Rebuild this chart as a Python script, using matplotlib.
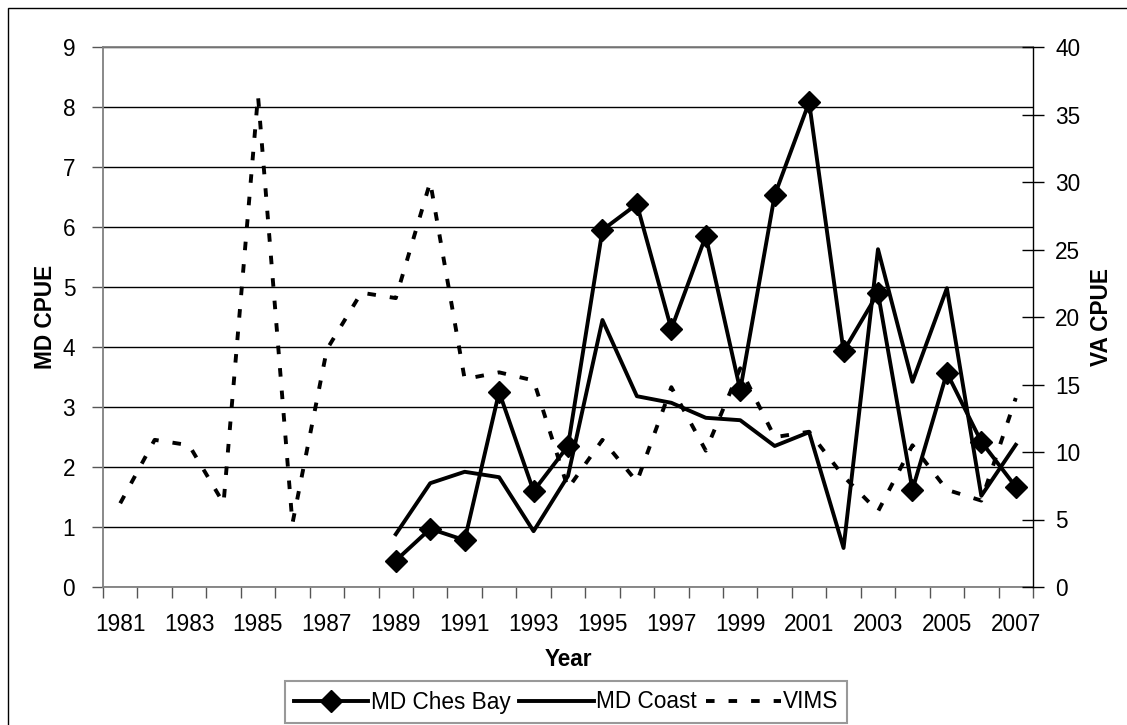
import numpy as np
import matplotlib
matplotlib.use('Agg')
import matplotlib.pyplot as plt
from matplotlib.patches import Rectangle

plt.rcParams['font.family'] = ['Liberation Sans', 'DejaVu Sans']

# data
years = list(range(1981, 2008))
md_years = list(range(1989, 2008))
md_ches_bay = [0.44, 0.97, 0.78, 3.25, 1.6, 2.35, 5.95, 6.38, 4.3, 5.85, 3.28,
               6.53, 8.08, 3.93, 4.9, 1.62, 3.57, 2.42, 1.67]
md_coast = [0.88, 1.73, 1.92, 1.83, 0.93, 1.85, 4.45, 3.18, 3.07, 2.82, 2.78,
            2.35, 2.58, 0.65, 5.63, 3.42, 4.98, 1.52, 2.37]
vims = [6.2, 10.9, 10.5, 6.2, 36.4, 4.7, 17.6, 21.8, 21.4, 30.0, 15.4, 15.9,
        15.3, 7.3, 10.9, 7.8, 14.8, 10.1, 16.2, 11.1, 11.5, 8.2, 5.6, 10.5,
        7.2, 6.4, 14.0]
label_years = list(range(1981, 2008, 2))

W, H = 1127, 725
fig = plt.figure(figsize=(W / 100, H / 100), dpi=100)
fs = 16.3

# plot area in pixels
L, R, T, B = 103, 1033, 47, 587
ax = fig.add_axes([L / W, 1 - B / H, (R - L) / W, (B - T) / H])
ax2 = ax.twinx()

lw = 2.8
ln1, = ax.plot(md_years, md_ches_bay, color='black', lw=lw, marker='D',
               ms=11, mfc='black', mec='black', zorder=4,
               label='MD Ches Bay')
ln2, = ax.plot(md_years, md_coast, color='black', lw=lw, zorder=3,
               label='MD Coast')
ln3, = ax2.plot(years, vims, color='black', lw=lw,
                linestyle=(0, (2.2, 3.6)), dash_capstyle='butt',
                label='VIMS')

ax.set_xlim(years[0] - 0.5, years[-1] + 0.5)
ax.set_ylim(0, 9)
ax2.set_ylim(0, 40)
ax.set_yticks(range(0, 10))
ax2.set_yticks(range(0, 41, 5))

# x: tick marks between categories, labels on every other year
ax.set_xticks(np.arange(years[0] - 0.5, years[-1] + 1, 1))
ax.set_xticklabels([])
ax.set_xticks(label_years, minor=True)
ax.set_xticklabels([str(y) for y in label_years], minor=True)
ax.tick_params(axis='x', which='major', direction='out', length=8,
               width=1, color='#555555')
ax.tick_params(axis='x', which='minor', length=0, pad=19, labelsize=fs)
ax.tick_params(axis='y', direction='out', length=8, width=1,
               color='#555555', pad=12, labelsize=fs)
ax2.tick_params(axis='y', direction='inout', length=16, width=1,
                color='black', pad=8, labelsize=fs)

ax.grid(axis='y', color='black', lw=1)
ax.set_axisbelow(True)
for s in ['left', 'bottom', 'top']:
    ax.spines[s].set_color('#808080')
    ax.spines[s].set_linewidth(1.3)
ax.spines['right'].set_visible(False)
for s in ['left', 'bottom', 'top']:
    ax2.spines[s].set_visible(False)
ax2.spines['right'].set_color('black')
ax2.spines['right'].set_linewidth(1)

fig.text(45 / W, 1 - 317 / H, 'MD CPUE', rotation=90, ha='center',
         va='center', fontsize=fs, fontweight='bold')
fig.text(1101 / W, 1 - 317 / H, 'VA CPUE', rotation=90, ha='center',
         va='center', fontsize=fs, fontweight='bold')
fig.text(568 / W, 1 - 660 / H, 'Year', ha='center', va='center',
         fontsize=fs, fontweight='bold')

leg = fig.legend(handles=[ln1, ln2, ln3], loc='center', ncol=3,
                 bbox_to_anchor=(566 / W, 1 - 702 / H), fontsize=fs,
                 frameon=True, fancybox=False, edgecolor='#808080',
                 handlelength=3.3, handletextpad=0.1, columnspacing=0.4,
                 borderpad=0.4, borderaxespad=0)
leg.get_frame().set_linewidth(1.5)

# outer chart frame (right/bottom edges fall outside the image)
fig.patches.append(Rectangle((8 / W, -0.1), 1.2, 1.1 - 8 / H,
                             transform=fig.transFigure, fill=False,
                             edgecolor='black', lw=1))

fig.savefig('out.png', dpi=100)
